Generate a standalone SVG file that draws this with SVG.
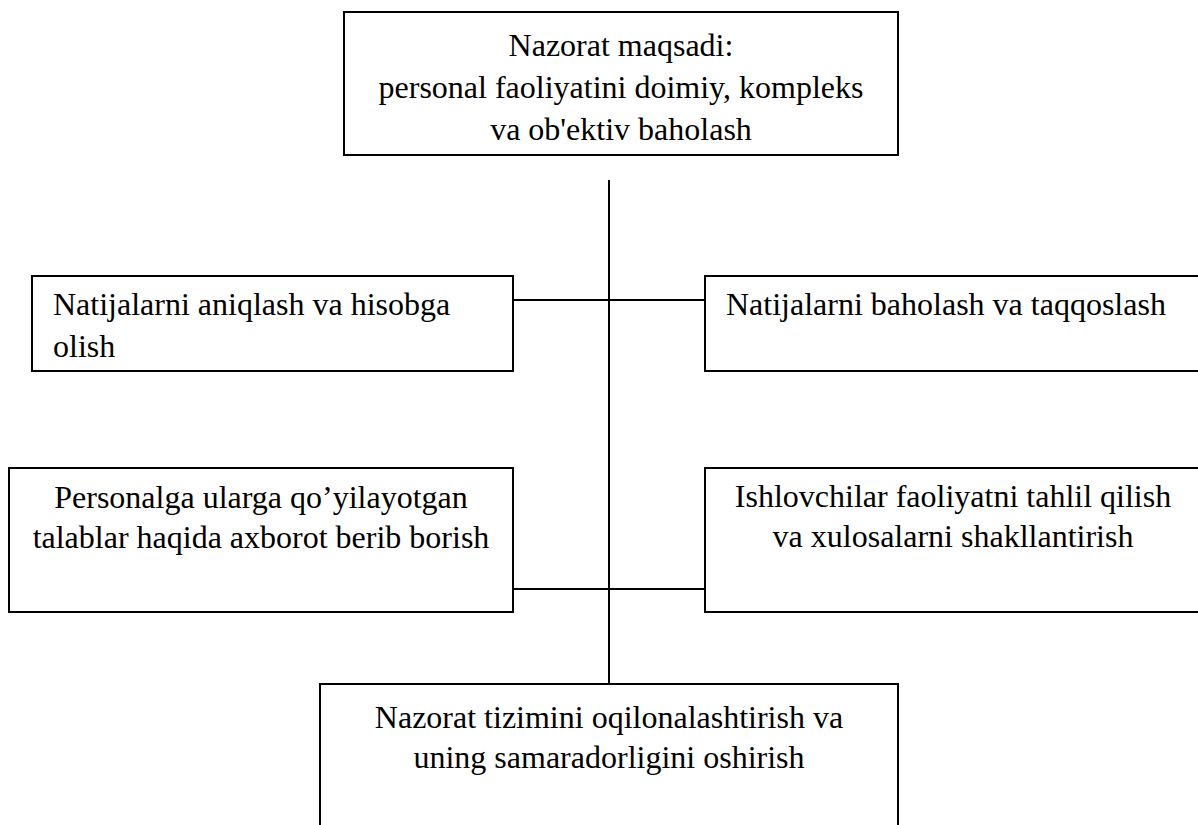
<svg xmlns="http://www.w3.org/2000/svg" width="1198" height="825" viewBox="0 0 1198 825">
  <style>
    .box { fill: #ffffff; stroke: #000000; stroke-width: 2; }
    .lbl { font-family: "Liberation Serif", "Times New Roman", serif; font-size: 32px; fill: #000000; }
    .mid { text-anchor: middle; }
    .wire { stroke: #000000; stroke-width: 2; fill: none; }
  </style>
  <rect x="0" y="0" width="1198" height="825" fill="#ffffff"/>

  <!-- connectors: central spine and the two cross bars -->
  <g id="connectors">
    <line class="wire" x1="609" y1="180" x2="609" y2="684"/>
    <line class="wire" x1="513" y1="300" x2="705" y2="300"/>
    <line class="wire" x1="513" y1="589" x2="705" y2="589"/>
  </g>

  <g id="goal">
    <rect class="box" x="344" y="12" width="554" height="143"/>
    <text class="lbl mid" x="621" y="56">Nazorat maqsadi:</text>
    <text class="lbl mid" x="621" y="98">personal faoliyatini doimiy, kompleks</text>
    <text class="lbl mid" x="621" y="140">va ob'ektiv baholash</text>
  </g>

  <g id="results-record">
    <rect class="box" x="32" y="276" width="481" height="95"/>
    <text class="lbl" x="53" y="315">Natijalarni aniqlash va hisobga</text>
    <text class="lbl" x="53" y="357">olish</text>
  </g>

  <g id="results-compare">
    <rect class="box" x="705" y="276" width="500" height="95"/>
    <text class="lbl" x="726" y="315">Natijalarni baholash va taqqoslash</text>
  </g>

  <g id="staff-inform">
    <rect class="box" x="9" y="468" width="504" height="144"/>
    <text class="lbl mid" x="261" y="508">Personalga ularga qo’yilayotgan</text>
    <text class="lbl mid" x="261" y="548">talablar haqida axborot berib borish</text>
  </g>

  <g id="activity-analysis">
    <rect class="box" x="705" y="468" width="500" height="144"/>
    <text class="lbl mid" x="953" y="507">Ishlovchilar faoliyatni tahlil qilish</text>
    <text class="lbl mid" x="953" y="547">va xulosalarni shakllantirish</text>
  </g>

  <g id="system-improve">
    <rect class="box" x="320" y="684" width="578" height="160"/>
    <text class="lbl mid" x="609" y="728">Nazorat tizimini oqilonalashtirish va</text>
    <text class="lbl mid" x="609" y="768">uning samaradorligini oshirish</text>
  </g>
</svg>
